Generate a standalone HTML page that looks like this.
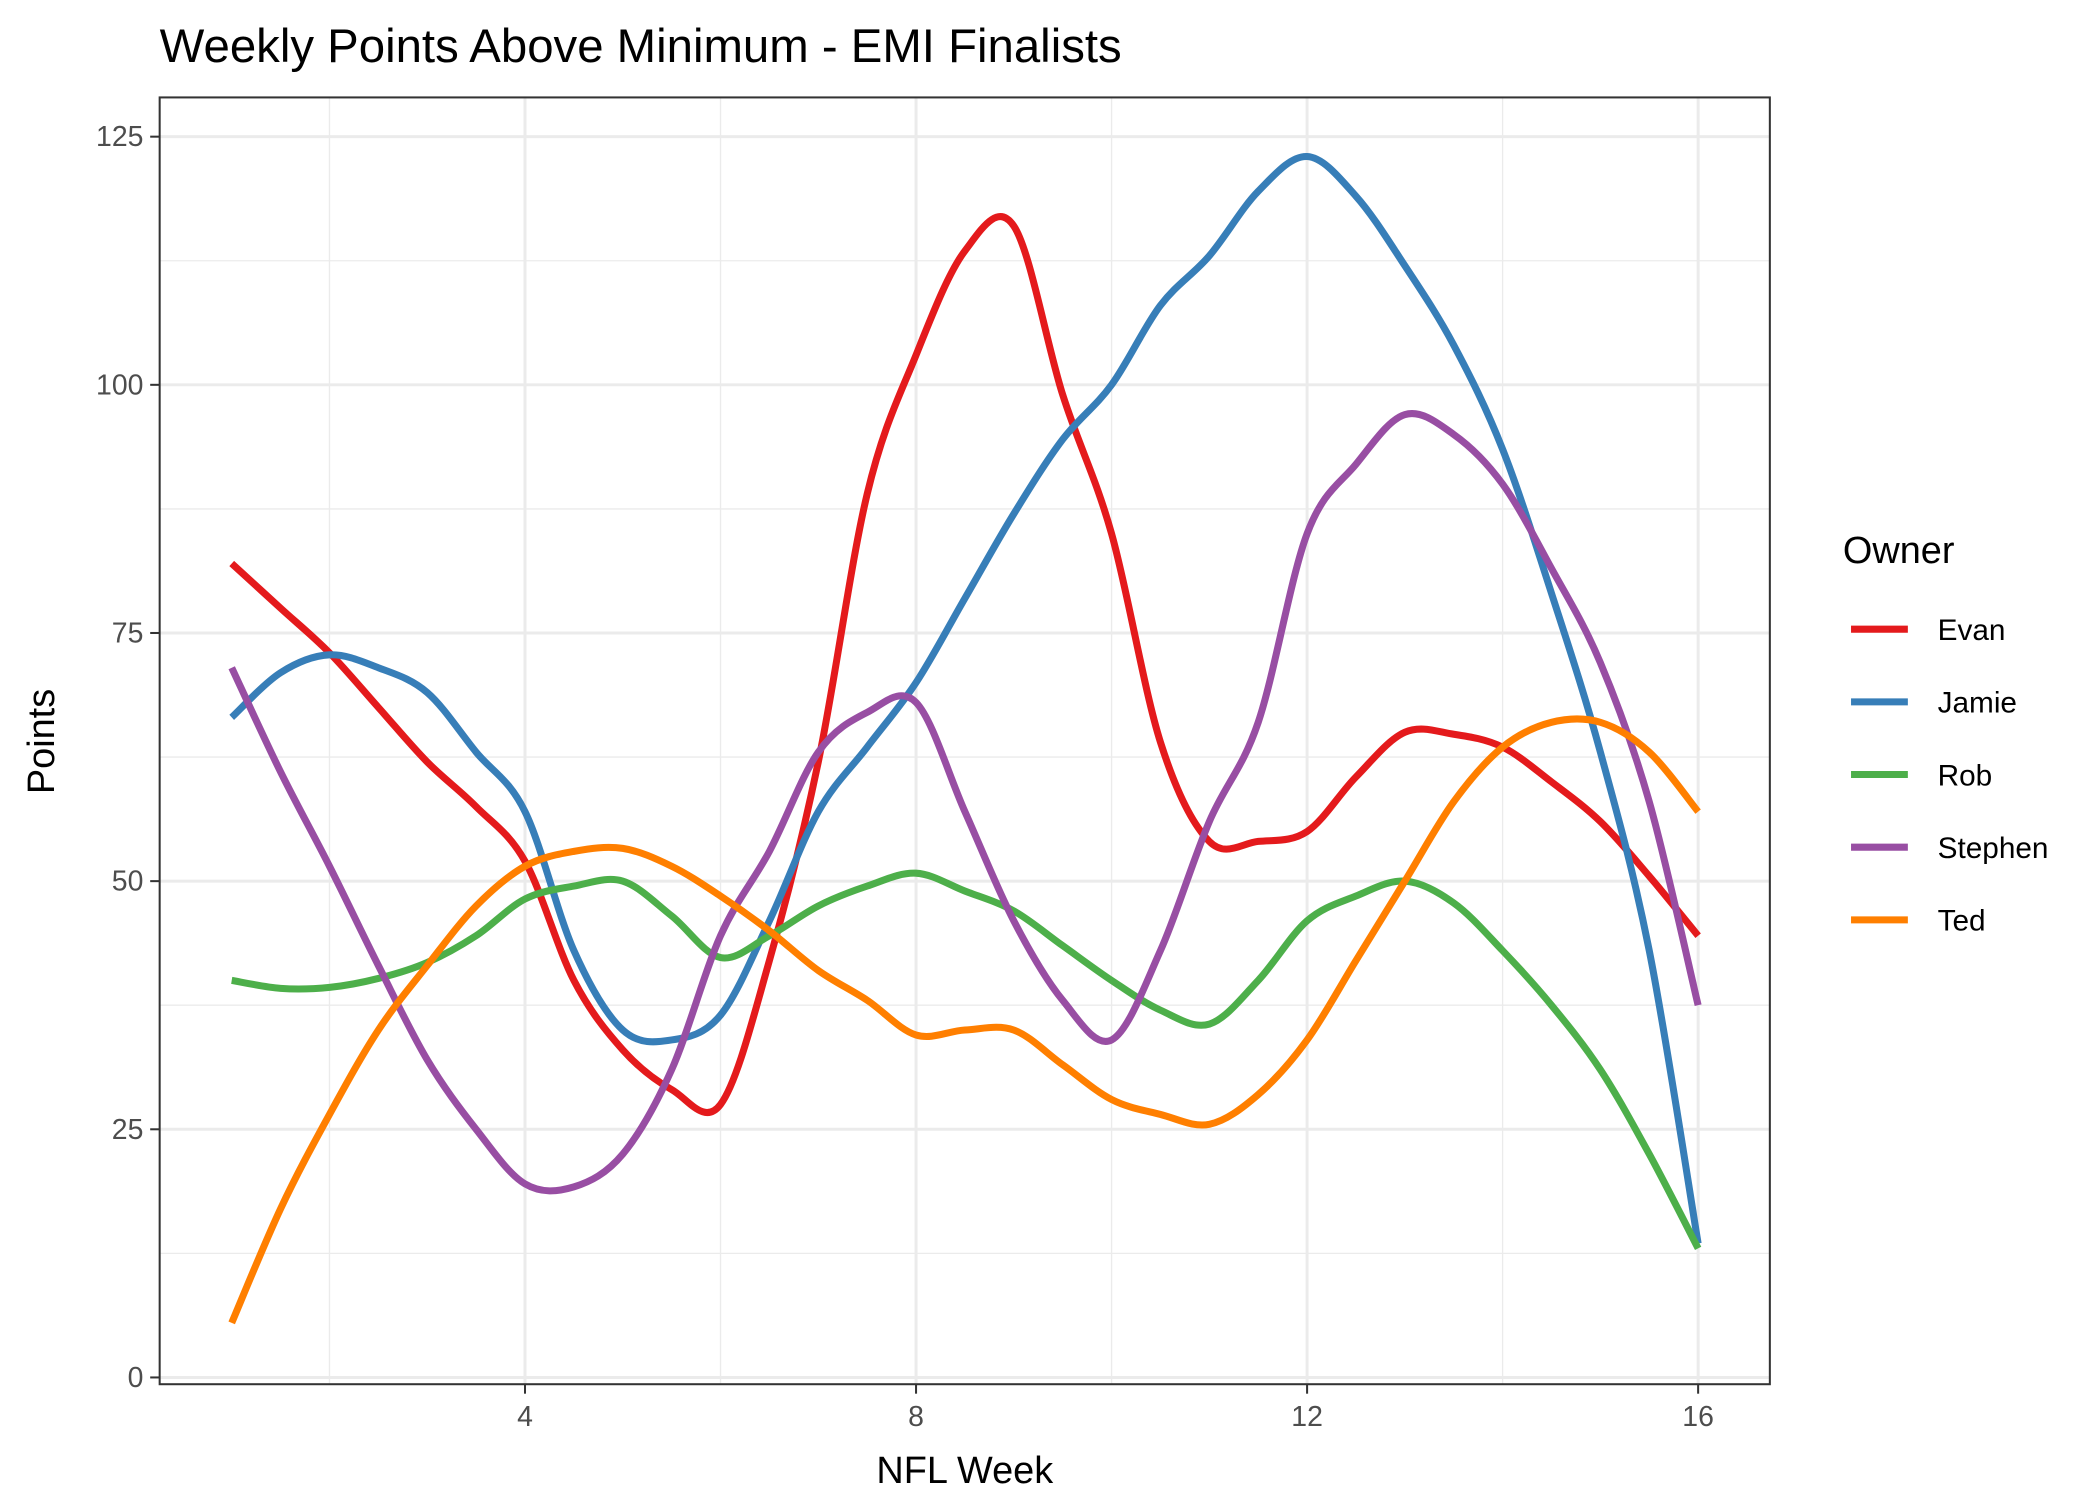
<!DOCTYPE html>
<html><head><meta charset="utf-8"><style>
html,body{margin:0;padding:0;background:#fff}
svg{display:block;font-family:"Liberation Sans",Arial,sans-serif}
</style></head><body>
<svg id="chart" width="2100" height="1500" viewBox="0 0 1552 1108.57" xmlns="http://www.w3.org/2000/svg">
<rect width="1552" height="1108.57" fill="#fff"/>
<text x="118" y="46" font-size="35" fill="#000">Weekly Points Above Minimum - EMI Finalists</text>
<g id="grid"></g>
<g id="series"></g>
<rect x="118" y="72" width="1190" height="951" fill="none" stroke="#333" stroke-width="1.5"/>
<g id="axes"></g>
<text x="713" y="1096" font-size="28" text-anchor="middle">NFL Week</text>
<text x="0" y="0" font-size="28" text-anchor="middle" transform="translate(40,548) rotate(-90)">Points</text>
<g id="legend"></g>
</svg>
<script>
const weeks=[1,1.5,2,2.5,3,3.5,4,4.5,5,5.5,6,6.5,7,7.5,8,8.5,9,9.5,10,10.5,11,11.5,12,12.5,13,13.5,14,14.5,15,15.5,16];
const owners=["Evan","Jamie","Rob","Stephen","Ted"];
const colors=["#E41A1C","#377EB8","#4DAF4A","#984EA3","#FF7F00"];
const evan=[82,77.5,73,67.5,62,57.5,52,40,33,29,27.5,42,62,89,103,113.5,116,99,85,64,54,54,55,60.5,65,64.8,63.5,60,56,50.5,44.5];
const jamie=[66.5,71,72.8,71.5,69,63,57,43,35,34,36.5,46,57,63.5,70,78.5,87,94.5,100,108,113,119.5,123,119,112,104,93.5,79,63,43,13.5];
const rob=[40,39.2,39.3,40.2,41.8,44.5,48.2,49.5,50,46.5,42.3,44.5,47.5,49.5,50.8,49,47,43.5,40,37,35.6,40,46,48.5,50,47.8,43,37.5,31,22.5,13];
const stephen=[71.5,61,51.5,41.5,32,25,19.5,19.2,22.5,31,44.5,53,63,67,68,57,46,38,34,43,56,66,85,92,97,95,90,81.5,72,58,37.5];
const ted=[5.5,17,26.5,35,41.5,47.5,51.5,53,53.3,51.5,48.5,45,41,38,34.5,35,35,31.5,28,26.5,25.5,28.5,34,42,50,58,63.5,66,66,63,57];
const xTicks=[4,8,12,16];
const xMinor=[2,6,10,14];
const yTicks=[0,25,50,75,100,125];
const yMinor=[12.5,37.5,62.5,87.5,112.5];
const NS="http://www.w3.org/2000/svg";
function X(w){return 171.25+(w-1)*72.25;}
function Y(v){return 1018-v*7.336;}
function mk(t,a,p){const e=document.createElementNS(NS,t);for(const k in a)e.setAttribute(k,a[k]);p.appendChild(e);return e;}
const grid=document.getElementById('grid'),axes=document.getElementById('axes'),ser=document.getElementById('series'),leg=document.getElementById('legend');
xMinor.forEach(w=>{const l=mk('line',{x1:X(w),x2:X(w),y1:72,y2:1023,stroke:'#ebebeb','stroke-width':1},grid);

});
yMinor.forEach(v=>{const l=mk('line',{x1:118,x2:1308,y1:Y(v),y2:Y(v),stroke:'#ebebeb','stroke-width':1},grid);

});
xTicks.forEach(w=>{const l=mk('line',{x1:X(w),x2:X(w),y1:72,y2:1023,stroke:'#ebebeb','stroke-width':2.2},grid);


const t=mk('line',{x1:X(w),x2:X(w),y1:1023,y2:1030,stroke:'#333','stroke-width':1.5},axes);


const tx=mk('text',{x:X(w),y:1054,'font-size':21,fill:'#4d4d4d','text-anchor':'middle'},axes);tx.textContent=w;

});
yTicks.forEach(v=>{const l=mk('line',{x1:118,x2:1308,y1:Y(v),y2:Y(v),stroke:'#ebebeb','stroke-width':2.2},grid);


const t=mk('line',{x1:111,x2:118,y1:Y(v),y2:Y(v),stroke:'#333','stroke-width':1.5},axes);


const tx=mk('text',{x:106,y:Y(v)+7,'font-size':21,fill:'#4d4d4d','text-anchor':'end'},axes);tx.textContent=v;

});
function path(vals){const p=vals.map((v,i)=>[X(weeks[i]),Y(v)]);let d='M'+p[0][0]+','+p[0][1];
for(let i=0;i<p.length-1;i++){const p0=p[Math.max(0,i-1)],p1=p[i],p2=p[i+1],p3=p[Math.min(p.length-1,i+2)];
const c1=[p1[0]+(p2[0]-p0[0])/6,p1[1]+(p2[1]-p0[1])/6],c2=[p2[0]-(p3[0]-p1[0])/6,p2[1]-(p3[1]-p1[1])/6];
d+=' C'+c1[0]+','+c1[1]+' '+c2[0]+','+c2[1]+' '+p2[0]+','+p2[1];}return d;}
const all=[evan,jamie,rob,stephen,ted];
all.forEach((vals,i)=>{const l=mk('path',{d:path(vals),fill:'none',stroke:colors[i],'stroke-width':5.2,'stroke-linejoin':'round'},ser);

});
const lt=mk('text',{x:1362,y:416,'font-size':28},leg);lt.textContent='Owner';


owners.forEach((o,i)=>{const y=465+i*53.7;const g=mk('g',{},leg);


mk('line',{x1:1368,x2:1410,y1:y,y2:y,stroke:colors[i],'stroke-width':5.2},g);
const t=mk('text',{x:1432,y:y+8,'font-size':22},g);t.textContent=o;});
</script>
</body></html>
